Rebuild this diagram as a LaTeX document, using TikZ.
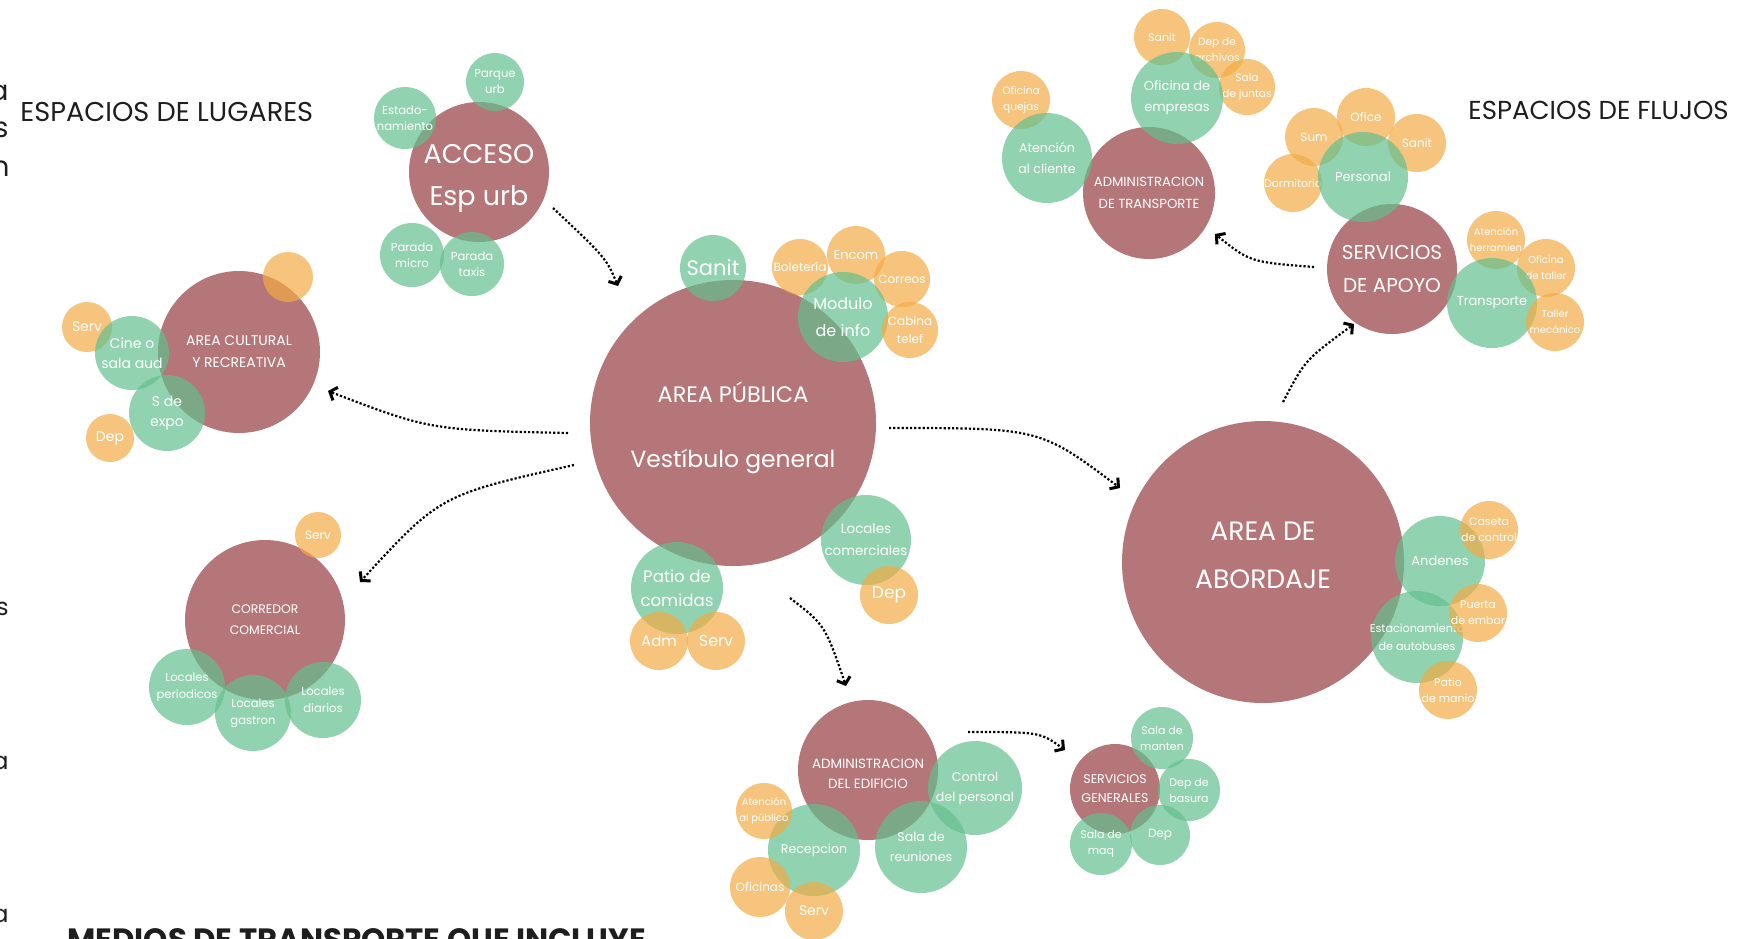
\documentclass[tikz,border=0pt]{standalone}
\usepackage{fontspec}
\setmainfont{Poppins}
\usetikzlibrary{arrows.meta}
\definecolor{mar}{RGB}{181,118,121}
\definecolor{grn}{RGB}{99,191,142}
\definecolor{org}{RGB}{242,171,69}
\definecolor{ink}{RGB}{30,30,30}
\newcommand\fz[2]{\fontsize{#1pt}{#2pt}\selectfont}
\begin{document}
\begin{tikzpicture}[x=0.5pt,y=-0.5pt,
  M/.style={circle, fill=mar, inner sep=0pt, draw=none},
  G/.style={circle, fill=grn, fill opacity=0.7, inner sep=0pt, draw=none},
  O/.style={circle, fill=org, fill opacity=0.7, inner sep=0pt, draw=none},
  lb/.style={text=white, text opacity=1, align=center, inner sep=0pt},
  flow/.style={line width=1.1pt, densely dotted, -{Straight Barb[length=3pt,width=7pt,line width=1.5pt]}},
  ttl/.style={text=ink, inner sep=0pt},
  frag/.style={text=ink, inner sep=0pt},
]
\useasboundingbox (0,0) rectangle (1764,938);
\clip (0,0) rectangle (1764,938);

% titles and fragments
\node[ttl, anchor=base west, font=\fz{13.6}{16}] (t1) at (20,121) {ESPACIOS DE LUGARES};
\node[ttl, anchor=base west, font=\fz{13}{15}] (t2) at (1468,119) {ESPACIOS DE FLUJOS};
\node[frag, anchor=base east, font=\fz{14}{16}] (f1) at (9,100) {a};
\node[frag, anchor=base east, font=\fz{14}{16}] (f2) at (9,137) {s};
\node[frag, anchor=base east, font=\fz{14}{16}] (f3) at (10,176) {n};
\node[frag, anchor=base east, font=\fz{12}{14}] (f4) at (9,615) {s};
\node[frag, anchor=base east, font=\fz{12}{14}] (f5) at (9,769) {a};
\node[frag, anchor=base east, font=\fz{12}{14}] (f6) at (9,922) {a};
\node[frag, anchor=base west, font=\bfseries\fz{15.4}{17}] (bt) at (67,950) {MEDIOS DE TRANSPORTE QUE INCLUYE};

% ACCESO
\node[M, minimum size=70pt, label={[lb,yshift=-3pt,font=\fz{13.5}{21}]center:ACCESO\\Esp urb}] (acc) at (479,172) {};
\node[G, minimum size=31pt, label={[lb,font=\fz{5.8}{8}]center:Estado-\\namiento}] (acce) at (405,118) {};
\node[G, minimum size=29pt, label={[lb,font=\fz{5.8}{8}]center:Parque\\urb}] (accp) at (495,82) {};
\node[G, minimum size=32pt, label={[lb,font=\fz{5.8}{8}]center:Parada\\micro}] (accm) at (412,255) {};
\node[G, minimum size=32pt, label={[lb,font=\fz{5.8}{8}]center:Parada\\taxis}] (acct) at (472,264) {};

% AREA CULTURAL
\node[M, minimum size=81pt, label={[lb,font=\fz{7}{11}]center:AREA CULTURAL\\Y RECREATIVA}] (cul) at (239,352) {};
\node[O, minimum size=25pt] (culo) at (288,277) {};
\node[O, minimum size=25pt, label={[lb,font=\fz{7}{9}]center:Serv}] (culs) at (87,327) {};
\node[G, minimum size=37pt, label={[lb,font=\fz{7}{10}]center:Cine o\\sala aud}] (culc) at (132,353) {};
\node[G, minimum size=38pt, label={[lb,font=\fz{7}{10}]center:S de\\expo}] (culx) at (167,413) {};
\node[O, minimum size=24pt, label={[lb,font=\fz{7}{9}]center:Dep}] (culd) at (110,438) {};

% AREA PUBLICA
\node[M, minimum size=143pt,
  label={[lb,yshift=15.5pt,font=\fz{11.2}{13}]center:AREA PÚBLICA},
  label={[lb,yshift=-19pt,font=\fz{11.7}{14}]center:Vestíbulo general}] (pub) at (733,423) {};
\node[G, minimum size=33pt, label={[lb,font=\fz{10.5}{12}]center:Sanit}] (pubs) at (713,268) {};
\node[O, minimum size=28pt, label={[lb,font=\fz{6}{8}]center:Boletería}] (pubb) at (800,267) {};
\node[O, minimum size=29pt, label={[lb,font=\fz{6.5}{8}]center:Encom}] (pube) at (856,255) {};
\node[O, minimum size=28pt, label={[lb,font=\fz{6}{8}]center:Correos}] (pubc) at (902,279) {};
\node[G, minimum size=45pt, label={[lb,font=\fz{8}{13.5}]center:Modulo\\de info}] (pubm) at (843,317) {};
\node[O, minimum size=28pt, label={[lb,font=\fz{6}{9}]center:Cabina\\telef}] (pubt) at (910,330) {};
\node[G, minimum size=45pt, label={[lb,font=\fz{6.7}{11}]center:Locales\\comerciales}] (publ) at (866,540) {};
\node[O, minimum size=29pt, label={[lb,font=\fz{8.5}{10}]center:Dep}] (pubd) at (889,595) {};
\node[G, minimum size=46pt, label={[lb,font=\fz{8.3}{12}]center:Patio de\\comidas}] (pubp) at (677,588) {};
\node[O, minimum size=29pt, label={[lb,font=\fz{7.5}{9}]center:Adm}] (puba) at (659,641) {};
\node[O, minimum size=29pt, label={[lb,font=\fz{8}{9}]center:Serv}] (pubv) at (716,641) {};

% CORREDOR COMERCIAL
\node[M, minimum size=80pt, label={[lb,font=\fz{6.2}{10.5}]center:CORREDOR\\COMERCIAL}] (cor) at (265,620) {};
\node[O, minimum size=23pt, label={[lb,font=\fz{6}{8}]center:Serv}] (cors) at (318,535) {};
\node[G, minimum size=38pt, label={[lb,font=\fz{5.8}{8.5}]center:Locales\\periodicos}] (corp) at (187,687) {};
\node[G, minimum size=38pt, label={[lb,font=\fz{5.8}{8.5}]center:Locales\\gastron}] (corg) at (253,713) {};
\node[G, minimum size=38pt, label={[lb,font=\fz{5.8}{8.5}]center:Locales\\diarios}] (cord) at (323,700) {};

% ADMINISTRACION DEL EDIFICIO
\node[M, minimum size=70pt, label={[lb,yshift=-2pt,font=\fz{6.7}{10}]center:ADMINISTRACION\\DEL EDIFICIO}] (adm) at (868,770) {};
\node[G, minimum size=47pt, label={[lb,font=\fz{6.3}{10}]center:Control\\del personal}] (admc) at (975,788) {};
\node[G, minimum size=46pt, label={[lb,font=\fz{6.3}{10}]center:Sala de\\reuniones}] (admr) at (921,847) {};
\node[G, minimum size=46pt, label={[lb,font=\fz{6.3}{10}]center:Recepcion}] (adme) at (814,850) {};
\node[O, minimum size=28pt, label={[lb,font=\fz{5}{8}]center:Atención\\al público}] (adma) at (764,811) {};
\node[O, minimum size=30pt, label={[lb,font=\fz{6}{8}]center:Oficinas}] (admo) at (760,887) {};
\node[O, minimum size=29pt, label={[lb,font=\fz{7}{9}]center:Serv}] (adms) at (814,911) {};

% SERVICIOS GENERALES
\node[M, minimum size=45pt, label={[lb,font=\fz{6.3}{9.5}]center:SERVICIOS\\GENERALES}] (sg) at (1115,789) {};
\node[G, minimum size=31pt, label={[lb,font=\fz{5.5}{8}]center:Sala de\\manten}] (sgm) at (1162,738) {};
\node[G, minimum size=31pt, label={[lb,font=\fz{5.5}{8}]center:Dep de\\basura}] (sgb) at (1189,790) {};
\node[G, minimum size=30pt, label={[lb,font=\fz{6}{8}]center:Dep}] (sgd) at (1160,835) {};
\node[G, minimum size=31pt, label={[lb,font=\fz{5.5}{8}]center:Sala de\\maq}] (sgq) at (1101,844) {};

% AREA DE ABORDAJE
\node[M, minimum size=141pt, label={[lb,yshift=3.5pt,font=\fz{13.3}{24}]center:AREA DE\\ABORDAJE}] (abo) at (1263,562) {};
\node[G, minimum size=45pt, label={[lb,font=\fz{6.5}{8}]center:Andenes}] (aboa) at (1440,561) {};
\node[G, minimum size=46pt, label={[lb,font=\fz{5.6}{9}]center:Estacionamiento\\de autobuses}] (aboe) at (1417,637) {};
\node[O, minimum size=29pt, label={[lb,font=\fz{5.5}{8}]center:Caseta\\de control}] (aboc) at (1489,530) {};
\node[O, minimum size=29pt, label={[lb,font=\fz{5.5}{8}]center:Puerta\\de embar}] (abop) at (1478,613) {};
\node[O, minimum size=29pt, label={[lb,font=\fz{5.5}{8}]center:Patio\\de manio}] (abom) at (1448,690) {};

% SERVICIOS DE APOYO
\node[M, minimum size=65pt, label={[lb,font=\fz{10}{16.5}]center:SERVICIOS\\DE APOYO}] (sa) at (1392,269) {};
\node[O, minimum size=29pt, label={[lb,font=\fz{5.5}{8}]center:Dormitorio}] (sad) at (1293,183) {};
\node[O, minimum size=29pt, label={[lb,font=\fz{6}{8}]center:Sum}] (sau) at (1314,137) {};
\node[O, minimum size=29pt, label={[lb,font=\fz{6}{8}]center:Ofice}] (sao) at (1366,117) {};
\node[O, minimum size=29pt, label={[lb,font=\fz{6}{8}]center:Sanit}] (sas) at (1417,143) {};
\node[G, minimum size=45pt, label={[lb,font=\fz{6.5}{8}]center:Personal}] (sap) at (1363,177) {};
\node[O, minimum size=29pt, label={[lb,font=\fz{5}{8}]center:Atención\\herramien}] (sah) at (1496,240) {};
\node[O, minimum size=29pt, label={[lb,font=\fz{5}{8}]center:Oficina\\de taller}] (saf) at (1546,268) {};
\node[G, minimum size=45pt, label={[lb,font=\fz{6.5}{8}]center:Transporte}] (sat) at (1492,303) {};
\node[O, minimum size=29pt, label={[lb,font=\fz{5}{8}]center:Taller\\mecánico}] (sam) at (1555,322) {};

% ADMINISTRACION DE TRANSPORTE
\node[M, minimum size=66pt, label={[lb,font=\fz{6.6}{11}]center:ADMINISTRACION\\DE TRANSPORTE}] (at) at (1149,193) {};
\node[O, minimum size=29pt, label={[lb,font=\fz{5.3}{8}]center:Oficina\\quejas}] (atq) at (1021,100) {};
\node[G, minimum size=45pt, label={[lb,font=\fz{6.3}{10.5}]center:Atención\\al cliente}] (atc) at (1047,158) {};
\node[O, minimum size=28pt, label={[lb,font=\fz{5.5}{8}]center:Sanit}] (ats) at (1162,37) {};
\node[O, minimum size=28pt, label={[lb,font=\fz{5.3}{8}]center:Dep de\\archivos}] (atd) at (1217,50) {};
\node[O, minimum size=28pt, label={[lb,font=\fz{5.3}{8}]center:Sala\\de juntas}] (atj) at (1247,87) {};
\node[G, minimum size=46pt, label={[lb,font=\fz{6.5}{10.5}]center:Oficina de\\empresas}] (ate) at (1177,98) {};

% connectors
\coordinate (a1s) at (553,208); \coordinate (a1e) at (618,286);
\coordinate (a2s) at (568,433); \coordinate (a2e) at (328,391);
\coordinate (a3s) at (574,465); \coordinate (a3e) at (360,582);
\coordinate (a4s) at (889,428); \coordinate (a4e) at (1120,488);
\coordinate (a5s) at (790,598); \coordinate (a5e) at (846,686);
\coordinate (a6s) at (968,732); \coordinate (a6e) at (1065,750);
\coordinate (a7s) at (1283,402); \coordinate (a7e) at (1354,324);
\coordinate (a8s) at (1314,267); \coordinate (a8e) at (1215,234);
\draw[flow] (a1s) .. controls (606,258) .. (a1e);
\draw[flow] (a2s) .. controls (430,430) .. (a2e);
\draw[flow] (a3s) .. controls (440,495) .. (a3e);
\draw[flow] (a4s) .. controls (1040,428) .. (a4e);
\draw[flow] (a5s) .. controls (825,625) .. (a5e);
\draw[flow] (a6s) .. controls (1040,732) .. (a6e);
\draw[flow] (a7s) .. controls (1305,360) .. (a7e);
\draw[flow] (a8s) .. controls (1250,262) .. (a8e);
\end{tikzpicture}
\end{document}
